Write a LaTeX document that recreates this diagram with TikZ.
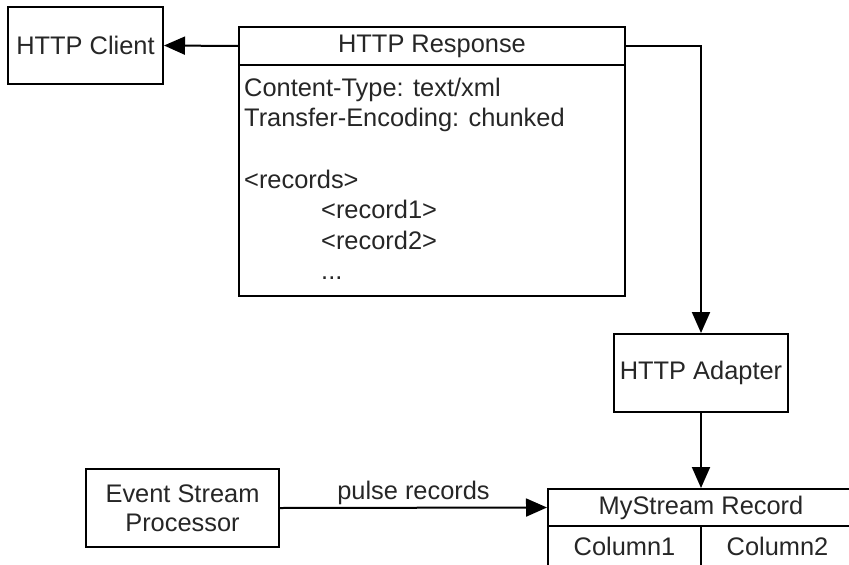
\documentclass[tikz,border=0pt]{standalone}
\usepackage{fontspec}
\setmainfont{Liberation Sans}
\usetikzlibrary{arrows.meta}
\newcommand\fsz{\fontsize{25.4}{30}\selectfont}
\begin{document}
\begin{tikzpicture}[x=1pt,y=-1pt,
  box/.style={draw, line width=2pt, inner sep=0pt, font=\fsz, align=center, text=black!85},
  arr/.style={-{Triangle[length=21pt,width=18pt]}, line width=2pt},
  txt/.style={anchor=base west, inner sep=0pt, font=\fsz, text=black!85}]
\useasboundingbox (0,0) rectangle (849,565);
\clip (0,0) rectangle (849,565);
\node[box, minimum width=155pt, minimum height=77pt] (client) at (85.5,45.5) {HTTP Client};
\node[box, minimum width=386pt, minimum height=38pt] (resp) at (432,46) {HTTP Response};
\node[box, minimum width=386pt, minimum height=231pt] (body) at (432,180.5) {};
\node[txt] (l1) at (244,96) {Content-Type: text/xml};
\node[txt] (l2) at (244,126.5) {Transfer-Encoding: chunked};
\node[txt] (l3) at (244,188) {<records>};
\node[txt] (l4) at (321,218) {<record1>};
\node[txt] (l5) at (321,249) {<record2>};
\node[txt] (l6) at (321,279) {...};
\node[box, minimum width=174pt, minimum height=78pt] (adapter) at (701,373) {HTTP Adapter};
\node[box, minimum width=193pt, minimum height=78pt] (esp) at (182.5,508) {Event Stream\\[-1pt]Processor};
\node[box, minimum width=306pt, minimum height=37pt] (ms) at (701,507.5) {MyStream Record};
\node[box, minimum width=153pt, minimum height=40pt] (c1) at (624.5,546) {Column1};
\node[box, minimum width=153pt, minimum height=40pt] (c2) at (777.5,546) {Column2};
\draw[arr] (resp.west) -- (client.east);
\draw[arr] (resp.east) -| (adapter.north);
\draw[arr] (adapter.south) -- (ms.north);
\draw[arr] (esp.east) -- node[midway, anchor=base, yshift=8pt, inner sep=0pt, font=\fsz, text=black!85] (lbl) {pulse records} (ms.west);
\end{tikzpicture}
\end{document}
